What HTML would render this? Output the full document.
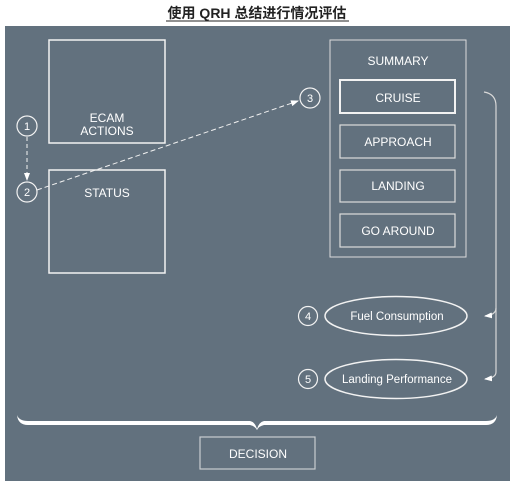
<!DOCTYPE html>
<html><head><meta charset="utf-8"><style>
html,body{margin:0;padding:0;background:#fff;}
svg{display:block;}
text{font-family:"Liberation Sans","Noto Sans CJK SC",sans-serif;fill:#fff;}
</style></head><body>
<svg width="512" height="481" viewBox="0 0 512 481" xmlns="http://www.w3.org/2000/svg">
<defs>
<marker id="ah" markerWidth="8" markerHeight="6" refX="7" refY="3" orient="auto" markerUnits="userSpaceOnUse">
<path d="M0,0 L8,3 L0,6 Z" fill="#fff"/></marker>
</defs>
<text x="257" y="18" text-anchor="middle" font-size="14" font-weight="bold" style="fill:#222">使用 QRH 总结进行情况评估</text>
<line x1="166" y1="21" x2="349" y2="21" stroke="#222" stroke-width="1"/>
<rect x="5" y="26" width="505" height="455" fill="#62717e"/>
<g fill="none" stroke="#f2f2f2" stroke-width="1.5">
<rect x="49" y="40" width="116" height="103"/>
<rect x="49" y="170" width="116" height="103"/>
<rect x="330" y="40" width="136" height="217" stroke-width="1" stroke="#dcdcdc"/>
<rect x="340" y="80" width="115" height="33" stroke-width="2"/>
<rect x="340" y="125" width="115" height="33" stroke="#dcdcdc" stroke-width="1.2"/>
<rect x="340" y="170" width="115" height="32" stroke="#dcdcdc" stroke-width="1.2"/>
<rect x="340" y="214" width="115" height="33" stroke="#dcdcdc" stroke-width="1.2"/>
<rect x="200" y="437" width="115" height="32" stroke="#c8ccd0" stroke-width="1.2"/>
<circle cx="27" cy="126" r="10" stroke-width="1.2"/>
<circle cx="27" cy="192" r="10" stroke-width="1.2"/>
<circle cx="310" cy="98" r="10" stroke-width="1.2"/>
<circle cx="308" cy="316" r="9.5" stroke-width="1.2"/>
<circle cx="308" cy="379" r="9.5" stroke-width="1.2"/>
<ellipse cx="396" cy="316" rx="71" ry="19.5"/>
<ellipse cx="396" cy="379" rx="71" ry="19.5"/>
<line x1="27" y1="137" x2="27" y2="180" stroke-dasharray="4,3" stroke-width="1" marker-end="url(#ah)"/>
<line x1="37" y1="190" x2="298" y2="101" stroke-dasharray="5,3" stroke-width="1" marker-end="url(#ah)"/>
<path d="M484,92 Q496,94 496,106 L496,372 Q496,378 485,379" stroke="#d8d8d8" stroke-width="1.2" marker-end="url(#ah)"/>
<path d="M496,308 Q496,315 485,316" stroke="#d8d8d8" stroke-width="1.2" marker-end="url(#ah)"/>
</g>
<path d="M17,415 Q19,421 28,421 L250,421 Q255,422 257,429 Q259,422 264,421 L486,421 Q495,421 497,415 Q496,425 486,425 L264,425 Q259,426 257,430 Q255,426 250,425 L28,425 Q18,425 17,415 Z" fill="#fff"/>
<g font-size="12" text-anchor="middle">
<text x="107" y="122">ECAM</text>
<text x="107" y="135">ACTIONS</text>
<text x="107" y="197">STATUS</text>
<text x="398" y="65">SUMMARY</text>
<text x="398" y="102">CRUISE</text>
<text x="398" y="146">APPROACH</text>
<text x="398" y="190">LANDING</text>
<text x="398" y="235">GO AROUND</text>
<text x="258" y="458">DECISION</text>
<text x="397" y="320" font-size="11.5">Fuel Consumption</text>
<text x="397" y="383" font-size="11.5">Landing Performance</text>
<text x="27" y="130" font-size="11">1</text>
<text x="27" y="196" font-size="11">2</text>
<text x="310" y="102" font-size="11">3</text>
<text x="308" y="320" font-size="11">4</text>
<text x="308" y="383" font-size="11">5</text>
</g>
</svg>
</body></html>
